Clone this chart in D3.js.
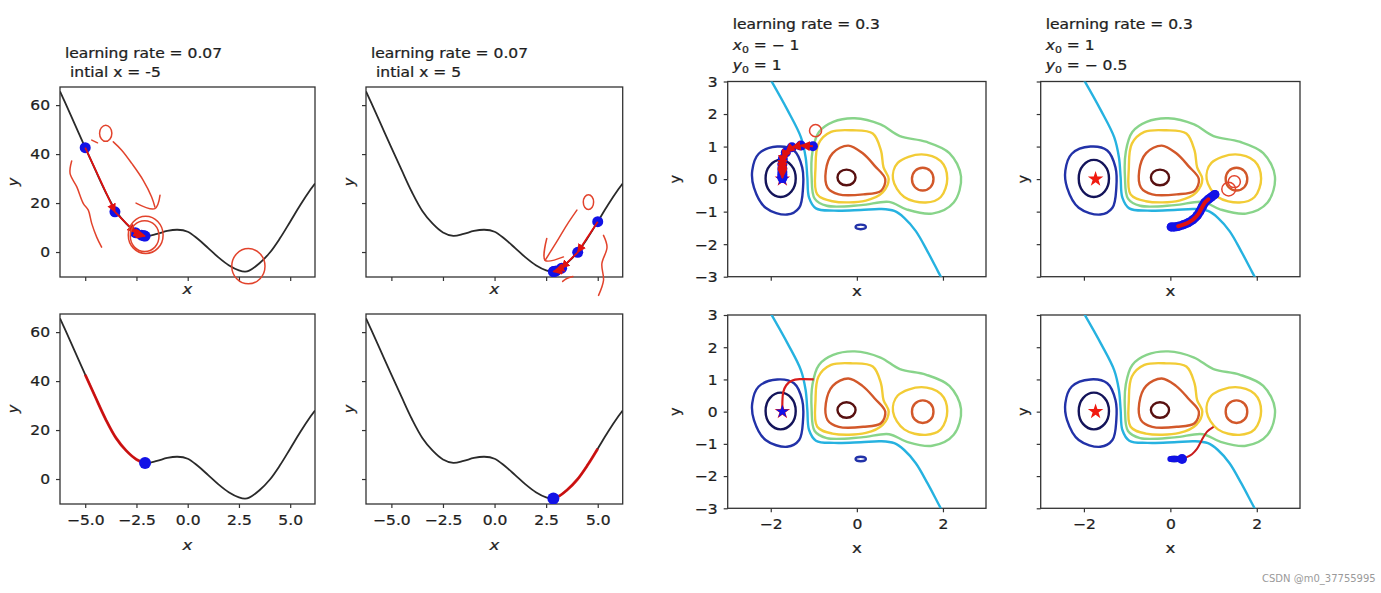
<!DOCTYPE html>
<html><head><meta charset="utf-8">
<script src="https://cdn.jsdelivr.net/npm/d3@7"></script>
<style>
body{margin:0;background:#fff;}
svg{display:block;}
</style></head><body>
<svg id="chart" width="1381" height="593"></svg>
<script>
// ---------------- DATA ----------------
// 1-D loss curve
const curveX = [-6.23,-6.0,-5.5,-5.0,-4.5,-4.0,-3.5,-3.0,-2.5,-2.0,-1.5,-1.0,-0.5,0.0,0.5,1.0,1.5,2.0,2.5,2.8,3.0,3.5,4.0,4.5,5.0,5.5,6.0,6.21];
const curveY = [65.6,61.4,52.0,42.6,33.4,24.4,16.8,11.6,8.0,6.6,7.4,8.6,9.1,8.3,5.3,1.6,-2.2,-5.4,-7.5,-8.0,-7.6,-4.6,-0.3,5.6,12.4,19.3,25.6,28.0];
const curveXTicks = [-5,-2.5,0,2.5,5];
const curveYTicks = [0,20,40,60];
const curveXDomain = [-6.23,6.21];
const curveYDomain = [-10.2,67.4];

// gradient-descent iterates (1-D)
const gdLeftX  = [-5,-3.55,-2.55,-2.25,-2.13,-2.08];
const gdLeftY  = [42.6,16.4,7.9,6.9,6.6,6.5];
const gdRightX = [5,4.03,3.25,2.98,2.88,2.85];
const gdRightY = [12.4,-0.1,-6.6,-7.7,-7.95,-8.0];

// 2-D contour panels
const contourXTicks = [-2,0,2];
const contourYTicks = [-3,-2,-1,0,1,2,3];
const contourDomain = [-3,3];
const levelColors = ["#14145a","#2232a8","#26b2e0","#88d48a","#f2cc36","#d2582a","#581010"];
const navyLoop   = [[-1.77,0.59],[-1.52,0.42],[-1.42,0.02],[-1.52,-0.38],[-1.77,-0.55],[-2.02,-0.38],[-2.12,0.02],[-2.02,0.42]];
const blueLoop   = [[-1.85,1.0],[-1.46,0.88],[-1.27,0.36],[-1.25,-0.26],[-1.34,-0.88],[-1.62,-1.09],[-2.12,-0.88],[-2.39,-0.26],[-2.43,0.26],[-2.28,0.78]];
const smallBlueLoop = [[0.09,-1.40],[0.18,-1.42],[0.21,-1.47],[0.18,-1.52],[0.09,-1.54],[0.0,-1.52],[-0.03,-1.47],[0.0,-1.42]];
const cyanLine   = [[-2.0,3.05],[-1.61,2.12],[-1.30,1.29],[-1.19,0.67],[-1.15,0.05],[-1.11,-0.57],[-0.95,-0.9],[-0.53,-0.97],[0.09,-0.95],[0.56,-0.92],[0.87,-0.98],[1.10,-1.19],[1.37,-1.6],[1.64,-2.22],[1.89,-2.85],[1.97,-3.05]];
const greenLoop  = [[-0.88,1.45],[-0.55,1.76],[-0.05,1.87],[0.55,1.68],[1.0,1.32],[1.6,1.15],[2.15,0.8],[2.42,0.08],[2.25,-0.72],[1.75,-1.06],[1.15,-0.93],[0.75,-0.7],[0.1,-0.8],[-0.7,-0.82],[-0.98,-0.6],[-1.05,0.05],[-1.03,0.85]];
const yellowLoopA = [[-0.10,1.50],[0.37,1.40],[0.56,0.88],[0.62,0.36],[0.74,0.0],[0.60,-0.41],[0.21,-0.66],[-0.57,-0.68],[-0.92,-0.47],[-0.96,0.36],[-0.89,1.09],[-0.6,1.45]];
const yellowLoopB = [[0.84,0.0],[0.95,0.5],[1.5,0.76],[1.95,0.55],[2.1,0.02],[1.95,-0.55],[1.6,-0.72],[1.1,-0.55]];
const orangeLoopA = [[-0.2,1.03],[0.13,0.8],[0.42,0.4],[0.66,0.0],[0.56,-0.36],[0.15,-0.47],[-0.42,-0.47],[-0.68,-0.26],[-0.72,0.26],[-0.56,0.8]];
const orangeLoopB = [[1.53,0.35],[1.71,0.25],[1.78,0.0],[1.71,-0.25],[1.53,-0.35],[1.35,-0.25],[1.28,0.0],[1.35,0.25]];
const brownLoop  = [[-0.24,0.29],[-0.09,0.22],[-0.03,0.05],[-0.09,-0.12],[-0.24,-0.19],[-0.39,-0.12],[-0.45,0.05],[-0.39,0.22]];
const minimumStar = [-1.73,0.0];

// 2-D trajectories
const traj5X = [-1.02,-1.30,-1.51,-1.65,-1.72,-1.73,-1.73,-1.73,-1.73,-1.73,-1.73];
const traj5Y = [1.01,1.03,0.98,0.82,0.62,0.45,0.32,0.22,0.14,0.08,0.03];
const traj7X = [-1.0,-1.3,-1.5,-1.64,-1.71,-1.73,-1.73];
const traj7Y = [1.0,1.01,0.97,0.82,0.6,0.3,0.0];
const traj6X = [1.03,0.95,0.88,0.80,0.74,0.68,0.62,0.52,0.41,0.30,0.18,0.08,0.02];
const traj6Y = [-0.47,-0.55,-0.62,-0.72,-0.85,-1.0,-1.12,-1.25,-1.34,-1.40,-1.45,-1.47,-1.47];
const traj8X = [1.0,0.85,0.72,0.62,0.5,0.35,0.27];
const traj8Y = [-0.47,-0.62,-0.9,-1.15,-1.32,-1.43,-1.47];
const traj8TailX = [-0.0,0.05,0.1,0.15,0.2,0.27];
const traj8TailY = [-1.47,-1.47,-1.47,-1.47,-1.47,-1.47];

// hand-drawn red annotations (data coordinates of each panel)
const annot1 = [
  {closed:true, pts:[[-4.0,51.8],[-3.79,50.8],[-3.7,48.5],[-3.79,46.2],[-4.0,45.2],[-4.21,46.2],[-4.3,48.5],[-4.21,50.8]]},
  {closed:false, pts:[[-4.68,45.7],[-4.4,44.6]]},
  {closed:false, pts:[[-3.63,45.0],[-3.22,41.6],[-2.73,36.2],[-2.17,29.3],[-1.76,22.5],[-1.6,18.4]]},
  {closed:false, pts:[[-2.52,20.0],[-1.6,17.7],[-1.35,23.2]]},
  {closed:false, pts:[[-5.66,37.2],[-5.74,32.1],[-5.41,26.6],[-5.09,19.8],[-4.85,17.1],[-4.68,11.6],[-4.44,6.1],[-4.2,2.0]]},
  {closed:true, pts:[[-2.05,14.6],[-1.45,12.4],[-1.2,7.0],[-1.45,1.6],[-2.05,-0.6],[-2.65,1.6],[-2.9,7.0],[-2.65,12.4]]},
  {closed:true, pts:[[-2.1,12.8],[-1.6,11.0],[-1.4,6.5],[-1.6,2.0],[-2.1,0.2],[-2.6,2.0],[-2.8,6.5],[-2.6,11.0]]},
  {closed:true, pts:[[2.96,1.4],[3.53,-0.7],[3.77,-5.8],[3.53,-10.9],[2.96,-13.0],[2.39,-10.9],[2.15,-5.8],[2.39,-0.7]]}
];
const annot2 = [
  {closed:true, pts:[[4.55,23.4],[4.73,22.5],[4.8,20.4],[4.73,18.3],[4.55,17.4],[4.37,18.3],[4.3,20.4],[4.37,22.5]]},
  {closed:false, pts:[[3.99,17.1],[3.5,11.0],[3.0,4.0],[2.45,-3.4]]},
  {closed:false, pts:[[2.53,5.5],[2.45,-3.4],[3.34,-2.0]]},
  {closed:false, pts:[[5.28,6.8],[5.45,2.0],[5.2,-4.8],[5.28,-11.6],[5.04,-17.7]]},
  {closed:false, pts:[[3.3,-12.0],[3.5,-10.8],[3.8,-10.0]]}
];
const annot5 = [
  {closed:true, pts:[[-0.96,1.68],[-0.86,1.62],[-0.82,1.49],[-0.86,1.36],[-0.96,1.30],[-1.06,1.36],[-1.10,1.49],[-1.06,1.62]]}
];
const annot6 = [
  {closed:true, pts:[[1.35,-0.10],[1.46,-0.16],[1.51,-0.31],[1.46,-0.46],[1.35,-0.52],[1.24,-0.46],[1.19,-0.31],[1.24,-0.16]]},
  {closed:true, pts:[[1.48,0.10],[1.58,0.05],[1.62,-0.08],[1.58,-0.21],[1.48,-0.26],[1.38,-0.21],[1.34,-0.08],[1.38,0.05]]}
];

// ---------------- STYLE / LAYOUT ----------------
const FONT = '"DejaVu Sans", sans-serif';
const TXT = "#1e1e1e";
const FRAME = "#333333";
const SX = 1.15;           // the source picture is stretched horizontally
const BLUE = "#1212e6";
const RED = "#e01010";
const ANNOT = "#e2432c";

const svg = d3.select("#chart");
svg.append("rect").attr("width",1381).attr("height",593).attr("fill","#fff");
const defs = svg.append("defs");
defs.append("marker").attr("id","arr").attr("viewBox","0 0 10 10").attr("refX",9).attr("refY",5)
  .attr("markerWidth",5).attr("markerHeight",5).attr("orient","auto")
  .append("path").attr("d","M0,0L10,5L0,10z").attr("fill",RED);

function label(x, y, parts, o={}) {
  const g = svg.append("g").attr("transform", `translate(${x},${y}) rotate(${o.rotate||0}) scale(${o.rotate?1:SX},1)`);
  const t = g.append("text").attr("text-anchor", o.anchor||"start").attr("font-size", o.size||13.5)
    .attr("font-family", FONT).attr("fill", TXT).attr("stroke", TXT).attr("stroke-width", 0.25);
  if (o.baseline) t.attr("dominant-baseline", o.baseline);
  parts.forEach(p => {
    const ts = t.append("tspan").text(p.t);
    if (p.italic) ts.attr("font-style","italic");
    if (p.size) ts.attr("font-size", p.size);
    if (p.dy) ts.attr("dy", p.dy);
  });
}

let clipId = 0;
function axes(p, xs, ys, xt, yt, showX, showY, fx, fy) {
  const gx = svg.append("g").attr("transform",`translate(0,${p.b})`)
    .call(d3.axisBottom(xs).tickValues(xt).tickSize(4).tickPadding(6).tickFormat(showX ? fx : () => ""));
  const gy = svg.append("g").attr("transform",`translate(${p.l},0)`)
    .call(d3.axisLeft(ys).tickValues(yt).tickSize(4).tickPadding(6).tickFormat(showY ? fy : () => ""));
  [gx, gy].forEach(g => {
    g.select(".domain").remove();
    g.selectAll("line").attr("stroke", FRAME).attr("stroke-width", 1.2);
    g.selectAll("text").attr("font-family", FONT).attr("font-size", 13.5).attr("fill", TXT)
      .attr("stroke", TXT).attr("stroke-width", 0.25);
  });
  gx.selectAll("text").attr("dy","0.78em").attr("transform", `scale(${SX},1)`);
  gy.selectAll("text").attr("x", -10/SX).attr("dy","0.36em").attr("transform", `scale(${SX},1)`);
  svg.append("rect").attr("x",p.l).attr("y",p.t).attr("width",p.r-p.l).attr("height",p.b-p.t)
    .attr("fill","none").attr("stroke",FRAME).attr("stroke-width",1.3);
  const id = "clip"+(clipId++);
  defs.append("clipPath").attr("id",id).append("rect")
    .attr("x",p.l).attr("y",p.t).attr("width",p.r-p.l).attr("height",p.b-p.t);
  return svg.append("g").attr("clip-path",`url(#${id})`);
}

function drawAnnot(list, xs, ys) {
  list.forEach(a => {
    const ln = d3.line().x(d=>xs(d[0])).y(d=>ys(d[1]))
      .curve(a.closed ? d3.curveCatmullRomClosed : d3.curveCatmullRom);
    svg.append("path").attr("d", ln(a.pts)).attr("fill","none").attr("stroke",ANNOT)
      .attr("stroke-width",1.5).attr("stroke-linecap","round").attr("stroke-linejoin","round");
  });
}

// ---------------- 1-D PANELS ----------------
const curvePanels = [
  {l:60,  r:315,   t:87,  b:277, xl:false, yl:true,  ylabX:13,  xlabY:289, title:["learning rate = 0.07","intial x = -5"], gd:"left",  full:true,  annot:annot1},
  {l:366, r:622.7, t:87,  b:277, xl:false, yl:false, ylabX:349, xlabY:289, title:["learning rate = 0.07","intial x = 5"],  gd:"right", full:true,  annot:annot2},
  {l:60,  r:315,   t:314, b:504, xl:true,  yl:true,  ylabX:13,  xlabY:545, title:null, gd:"left",  full:false},
  {l:366, r:622.7, t:314, b:504, xl:true,  yl:false, ylabX:349, xlabY:545, title:null, gd:"right", full:false}
];
const curvePts = curveX.map((x,i)=>[x,curveY[i]]);

curvePanels.forEach(p => {
  const xs = d3.scaleLinear().domain(curveXDomain).range([p.l,p.r]);
  const ys = d3.scaleLinear().domain(curveYDomain).range([p.b,p.t]);
  const plot = axes(p, xs, ys, curveXTicks, curveYTicks, p.xl, p.yl, d3.format(".1f"), d3.format("d"));
  const line = d3.line().x(d=>xs(d[0])).y(d=>ys(d[1])).curve(d3.curveCatmullRom);
  plot.append("path").attr("d", line(curvePts)).attr("fill","none").attr("stroke","#2a2a2a").attr("stroke-width",1.8);

  const gx = p.gd==="left" ? gdLeftX : gdRightX;
  const gy = p.gd==="left" ? gdLeftY : gdRightY;
  const n = gx.length;
  if (p.full) {
    plot.selectAll("circle.dot").data(gx.map((x,i)=>[x,gy[i]])).join("circle")
      .attr("cx",d=>xs(d[0])).attr("cy",d=>ys(d[1])).attr("r",5.5).attr("fill",BLUE);
    for (let i=0;i<n-1;i++) {
      plot.append("line").attr("x1",xs(gx[i])).attr("y1",ys(gy[i])).attr("x2",xs(gx[i+1])).attr("y2",ys(gy[i+1]))
        .attr("stroke",RED).attr("stroke-width",1.8).attr("marker-end","url(#arr)");
    }
  } else {
    const lo = Math.min(gx[0], gx[n-1]), hi = Math.max(gx[0], gx[n-1]);
    let seg = curvePts.filter(d => d[0] > lo && d[0] < hi);
    seg = p.gd==="left" ? [[gx[0],gy[0]],...seg,[gx[n-1],gy[n-1]]] : [[gx[n-1],gy[n-1]],...seg,[gx[0],gy[0]]];
    plot.append("path").attr("d", line(seg)).attr("fill","none").attr("stroke","#d80c0c").attr("stroke-width",2.8).attr("opacity",0.9);
    plot.append("circle").attr("cx",xs(gx[n-1])).attr("cy",ys(gy[n-1])).attr("r",6).attr("fill",BLUE);
  }
  if (p.annot) drawAnnot(p.annot, xs, ys);

  label(p.ylabX, (p.t+p.b)/2, [{t:"y", italic:true}], {rotate:-90, anchor:"middle", size:14.5, baseline:"central"});
  label((p.l+p.r)/2, p.xlabY, [{t:"x", italic:true}], {anchor:"middle", size:14.5, baseline:"central"});
  if (p.title) {
    label(p.l+5, 58, [{t:p.title[0]}]);
    label(p.l+10, 77, [{t:p.title[1]}]);
  }
});

// ---------------- 2-D PANELS ----------------
const contourSet = [
  {pts:cyanLine, lvl:2, closed:false},
  {pts:greenLoop, lvl:3, closed:true},
  {pts:yellowLoopA, lvl:4, closed:true},
  {pts:yellowLoopB, lvl:4, closed:true},
  {pts:orangeLoopA, lvl:5, closed:true},
  {pts:orangeLoopB, lvl:5, closed:true},
  {pts:brownLoop, lvl:6, closed:true},
  {pts:blueLoop, lvl:1, closed:true},
  {pts:smallBlueLoop, lvl:1, closed:true},
  {pts:navyLoop, lvl:0, closed:true}
];

const contourPanels = [
  {l:727.7,  r:986,  t:81.5, b:276.7, xl:false, yl:true,  ylabX:675,  xlabY:291, title:{x:-1,y:1},    kind:"dots5", annot:annot5},
  {l:1040.7, r:1300, t:81.5, b:276.7, xl:false, yl:false, ylabX:1023, xlabY:291, title:{x:1,y:-0.5},  kind:"dots6", annot:annot6},
  {l:727.7,  r:986,  t:315,  b:508.3, xl:true,  yl:true,  ylabX:675,  xlabY:548, title:null, kind:"line7"},
  {l:1040.7, r:1300, t:315,  b:508.3, xl:true,  yl:false, ylabX:1023, xlabY:548, title:null, kind:"line8"}
];
const fmtNum = v => (v<0 ? "\u2212 " + Math.abs(v) : String(v));

contourPanels.forEach(p => {
  const xs = d3.scaleLinear().domain(contourDomain).range([p.l,p.r]);
  const ys = d3.scaleLinear().domain(contourDomain).range([p.b,p.t]);
  const plot = axes(p, xs, ys, contourXTicks, contourYTicks, p.xl, p.yl, d3.format("d"), d3.format("d"));
  contourSet.forEach(c => {
    const ln = d3.line().x(d=>xs(d[0])).y(d=>ys(d[1]))
      .curve(c.closed ? d3.curveCatmullRomClosed : d3.curveCatmullRom);
    plot.append("path").attr("d", ln(c.pts)).attr("fill","none")
      .attr("stroke", levelColors[c.lvl]).attr("stroke-width", 2.4);
  });
  const star = d3.symbol().type(d3.symbolStar).size(75);
  plot.append("path").attr("d", star()).attr("transform",`translate(${xs(minimumStar[0])},${ys(minimumStar[1])})`).attr("fill","#f01a10");
  const ln = d3.line().x(d=>xs(d[0])).y(d=>ys(d[1])).curve(d3.curveCatmullRom);

  if (p.kind==="dots5") {
    const pts = traj5X.map((x,i)=>[x,traj5Y[i]]);
    plot.append("path").attr("d", d3.symbol().type(d3.symbolStar).size(55)()).attr("transform",`translate(${xs(minimumStar[0])},${ys(minimumStar[1])})`).attr("fill",BLUE);
    plot.selectAll("circle.t").data(pts).join("circle").attr("cx",d=>xs(d[0])).attr("cy",d=>ys(d[1])).attr("r",5).attr("fill",BLUE);
    for (let i=0;i<pts.length-1;i++) {
      plot.append("line").attr("x1",xs(pts[i][0])).attr("y1",ys(pts[i][1])).attr("x2",xs(pts[i+1][0])).attr("y2",ys(pts[i+1][1]))
        .attr("stroke",RED).attr("stroke-width",2).attr("marker-end","url(#arr)");
    }
  } else if (p.kind==="dots6") {
    const pts = traj6X.map((x,i)=>[x,traj6Y[i]]);
    plot.append("path").attr("d", ln(pts)).attr("fill","none").attr("stroke",BLUE).attr("stroke-width",9).attr("stroke-linecap","round");
    plot.selectAll("circle.t").data(pts).join("circle").attr("cx",d=>xs(d[0])).attr("cy",d=>ys(d[1])).attr("r",4.5).attr("fill",BLUE);
    plot.append("path").attr("d", ln(pts.slice(2,11))).attr("fill","none").attr("stroke",RED).attr("stroke-width",4).attr("stroke-linecap","round");
  } else if (p.kind==="line7") {
    const pts = traj7X.map((x,i)=>[x,traj7Y[i]]);
    plot.append("path").attr("d", ln(pts)).attr("fill","none").attr("stroke","#d81c1c").attr("stroke-width",2.2);
    plot.append("path").attr("d", d3.symbol().type(d3.symbolStar).size(55)()).attr("transform",`translate(${xs(minimumStar[0])},${ys(minimumStar[1])})`).attr("fill",BLUE);
  } else if (p.kind==="line8") {
    const pts = traj8X.map((x,i)=>[x,traj8Y[i]]);
    const tail = traj8TailX.map((x,i)=>[x,traj8TailY[i]]);
    plot.selectAll("circle.tail").data(tail).join("circle").attr("cx",d=>xs(d[0])).attr("cy",d=>ys(d[1])).attr("r",3).attr("fill",BLUE);
    plot.append("path").attr("d", ln(pts)).attr("fill","none").attr("stroke","#c81c1c").attr("stroke-width",2);
    plot.append("circle").attr("cx",xs(traj8X[traj8X.length-1])).attr("cy",ys(traj8Y[traj8Y.length-1])).attr("r",5).attr("fill",BLUE);
  }
  if (p.annot) drawAnnot(p.annot, xs, ys);

  label(p.ylabX, (p.t+p.b)/2, [{t:"y"}], {rotate:-90, anchor:"middle", size:14.5, baseline:"central"});
  label((p.l+p.r)/2, p.xlabY, [{t:"x"}], {anchor:"middle", size:14.5, baseline:"central"});
  if (p.title) {
    label(p.l+5, 29, [{t:"learning rate = 0.3"}]);
    label(p.l+5, 50, [{t:"x", italic:true},{t:"0", size:9.5, dy:3},{t:" = " + fmtNum(p.title.x), dy:-3}]);
    label(p.l+5, 70, [{t:"y", italic:true},{t:"0", size:9.5, dy:3},{t:" = " + fmtNum(p.title.y), dy:-3}]);
  }
});

// watermark
svg.append("text").attr("x",1262).attr("y",582).attr("font-family",FONT).attr("font-size",10)
  .attr("fill","#9a9a9a").text("CSDN @m0_37755995");
</script>
</body></html>
